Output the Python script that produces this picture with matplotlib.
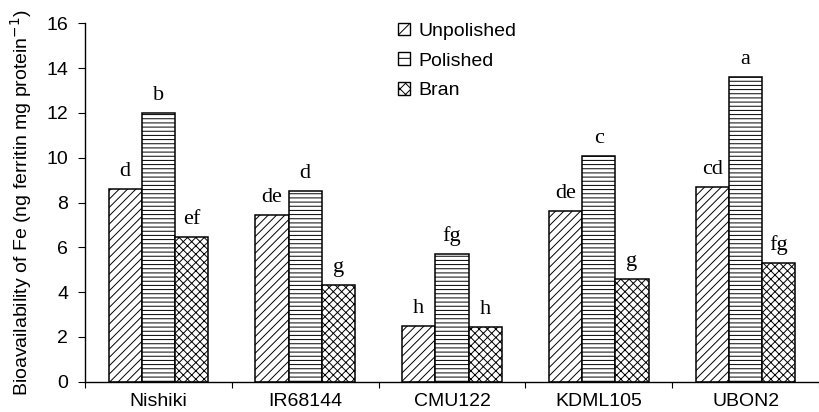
import numpy as np
import matplotlib
matplotlib.use('Agg')
import matplotlib.pyplot as plt
from matplotlib.patches import Patch

cultivars = ['Nishiki', 'IR68144', 'CMU122', 'KDML105', 'UBON2']
unpolished = [8.59, 7.43, 2.49, 7.62, 8.71]
polished = [12.0, 8.53, 5.69, 10.09, 13.62]
bran = [6.45, 4.32, 2.43, 4.57, 5.31]
letters_unpolished = ['d', 'de', 'h', 'de', 'cd']
letters_polished = ['b', 'd', 'fg', 'c', 'a']
letters_bran = ['ef', 'g', 'h', 'g', 'fg']

plt.rcParams['font.family'] = ['Liberation Sans', 'DejaVu Sans']
plt.rcParams['hatch.linewidth'] = 0.7

fig = plt.figure(figsize=(8.19, 4.12), dpi=100)
ax = fig.add_axes([85/819, 30.3/412, 1 - 85/819, 358.4/412])

x = np.arange(len(cultivars))
w = 0.226
series = [(unpolished, '////', letters_unpolished),
          (polished, '----', letters_polished),
          (bran, 'xxxx', letters_bran)]

for i, (vals, hatch, lets) in enumerate(series):
    pos = x + (i - 1) * w
    ax.bar(pos, vals, width=w, color='white', edgecolor='black',
           linewidth=1.1, hatch=hatch)
    for px, v, t in zip(pos, vals, lets):
        ax.text(px, v + 0.35, t, ha='center', va='bottom',
                fontsize=16, family='Liberation Serif')

ax.set_xlim(-0.5, -0.5 + 734/148.5)
ax.set_ylim(0, 16)
ax.set_yticks(range(0, 17, 2))
ax.tick_params(axis='y', direction='out', length=5, width=0.8, pad=7, labelsize=14)

ax.set_xticks(np.arange(len(cultivars) + 1) - 0.5)
ax.set_xticklabels([])
ax.tick_params(axis='x', which='major', direction='out', length=4, width=0.8)
ax.set_xticks(x, minor=True)
ax.set_xticklabels(cultivars, minor=True)
ax.tick_params(axis='x', which='minor', length=0, pad=8, labelsize=14)

for s in ['top', 'right']:
    ax.spines[s].set_visible(False)
for s in ['left', 'bottom']:
    ax.spines[s].set_linewidth(1.0)

ax.set_ylabel('Bioavailability of Fe (ng ferritin mg protein$^{-1}$)',
              fontsize=14, labelpad=9)

handles = [Patch(facecolor='white', edgecolor='black', hatch='//', label='Unpolished'),
           Patch(facecolor='white', edgecolor='black', hatch='-', label='Polished'),
           Patch(facecolor='white', edgecolor='black', hatch='xxx', label='Bran')]
fig.legend(handles=handles, loc='upper left', bbox_to_anchor=(398/819, 1 - 22.7/412),
           frameon=False, fontsize=14, borderpad=0, borderaxespad=0,
           handlelength=0.62, handleheight=0.62, handletextpad=0.45,
           labelspacing=0.65)

fig.savefig('out.png', dpi=100)
